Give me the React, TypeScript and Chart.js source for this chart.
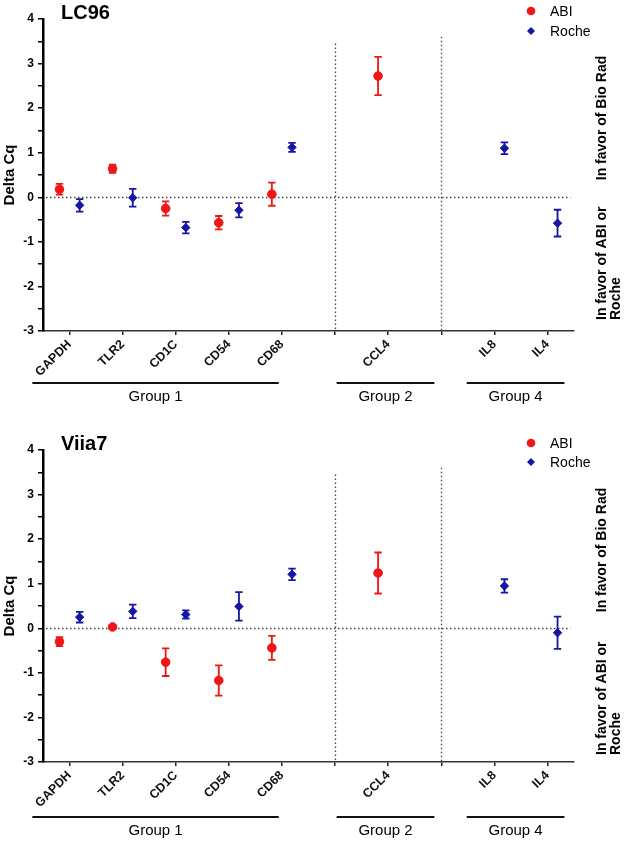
import React, { useEffect, useRef } from 'react';
import { Chart, registerables } from 'chart.js';

Chart.register(...registerables);
Chart.defaults.font.family = 'Arial, "Liberation Sans", sans-serif';

// ---------- data ----------
const categories = ['GAPDH', 'TLR2', 'CD1C', 'CD54', 'CD68', '', 'CCL4', '', 'IL8', 'IL4'];

const lc96Abi = [0.18, 0.64, -0.25, -0.57, 0.07, null, 2.72, null, null, null];
const lc96AbiErr = [0.12, 0.09, 0.16, 0.15, 0.26, null, 0.43, null, null, null];
const lc96Roche = [-0.18, -0.01, -0.68, -0.29, 1.12, null, null, null, 1.1, -0.58];
const lc96RocheErr = [0.14, 0.2, 0.13, 0.16, 0.1, null, null, null, 0.13, 0.3];

const viiaAbi = [-0.3, 0.03, -0.76, -1.17, -0.44, null, 1.24, null, null, null];
const viiaAbiErr = [0.1, 0.04, 0.31, 0.34, 0.27, null, 0.46, null, null, null];
const viiaRoche = [0.25, 0.38, 0.31, 0.49, 1.21, null, null, null, 0.95, -0.1];
const viiaRocheErr = [0.12, 0.15, 0.09, 0.32, 0.13, null, null, null, 0.15, 0.36];

const groupNames = ['Group 1', 'Group 2', 'Group 4'];
const groupStart = [-0.7, 5.03, 7.48];
const groupEnd = [3.94, 6.87, 9.32];
const dividers = [5, 7];
const dividerTop = [3.45, 3.6];

const yMin = -3;
const yMax = 4;

const RED = 'rgb(238,22,22)';
const BLUE = 'rgb(22,22,165)';
const OFFSET = 0.19;

type Panel = {
  title: string;
  abi: (number | null)[];
  abiErr: (number | null)[];
  roche: (number | null)[];
  rocheErr: (number | null)[];
  top: number;
  height: number;
  plotTop: number;
  plotBottom: number;
  legendY: number[];
  groupLineY: number;
  groupTextY: number;
  bioRadY: number;
  abiTextStartY: number;
};

const panels: Panel[] = [
  {
    title: 'LC96',
    abi: lc96Abi, abiErr: lc96AbiErr, roche: lc96Roche, rocheErr: lc96RocheErr,
    top: 0, height: 428, plotTop: 19, plotBottom: 331,
    legendY: [11, 31], groupLineY: 383, groupTextY: 397, bioRadY: 118, abiTextStartY: 320,
  },
  {
    title: 'Viia7',
    abi: viiaAbi, abiErr: viiaAbiErr, roche: viiaRoche, rocheErr: viiaRocheErr,
    top: 428, height: 414, plotTop: 22, plotBottom: 334,
    legendY: [15, 34], groupLineY: 389, groupTextY: 403, bioRadY: 122, abiTextStartY: 327,
  },
];

function toPoints(vals: (number | null)[], errs: (number | null)[], dx: number) {
  const out: { x: number; y: number; err: number }[] = [];
  vals.forEach((v, i) => {
    if (v !== null) out.push({ x: i + dx, y: v, err: errs[i] ?? 0 });
  });
  return out;
}

const FONT = 'Arial, "Liberation Sans", sans-serif';

const decorPlugin = {
  id: 'decor',
  beforeDatasetsDraw(chart: any) {
    const { ctx, chartArea } = chart;
    const xs = chart.scales.x;
    const ys = chart.scales.y;
    ctx.save();
    // dotted zero line & dividers
    ctx.setLineDash([1.5, 2.5]);
    ctx.lineWidth = 1.3;
    ctx.strokeStyle = '#444';
    const y0 = Math.round(ys.getPixelForValue(0)) + 0.5;
    ctx.beginPath();
    ctx.moveTo(chartArea.left + 3, y0);
    ctx.lineTo(xs.getPixelForValue(9.43), y0);
    ctx.stroke();
    dividers.forEach((d, k) => {
      const px = Math.round(xs.getPixelForValue(d)) + 0.5;
      ctx.beginPath();
      ctx.moveTo(px, ys.getPixelForValue(dividerTop[k]));
      ctx.lineTo(px, chartArea.bottom);
      ctx.stroke();
    });
    ctx.setLineDash([]);
    // error bars
    chart.data.datasets.forEach((ds: any, i: number) => {
      const meta = chart.getDatasetMeta(i);
      ctx.strokeStyle = ds.borderColor;
      ctx.lineWidth = 1.8;
      meta.data.forEach((el: any, j: number) => {
        const pt = ds.data[j];
        const t = ys.getPixelForValue(pt.y + pt.err);
        const b = ys.getPixelForValue(pt.y - pt.err);
        ctx.beginPath();
        ctx.moveTo(el.x, t);
        ctx.lineTo(el.x, b);
        ctx.moveTo(el.x - 3.7, t);
        ctx.lineTo(el.x + 3.7, t);
        ctx.moveTo(el.x - 3.7, b);
        ctx.lineTo(el.x + 3.7, b);
        ctx.stroke();
      });
    });
    ctx.restore();
  },
  afterDraw(chart: any, _args: any, opts: any) {
    const { ctx, chartArea } = chart;
    const xs = chart.scales.x;
    const p: Panel = opts.panel;
    ctx.save();
    ctx.fillStyle = '#000';
    // title
    ctx.font = `bold 20px ${FONT}`;
    ctx.textAlign = 'left';
    ctx.textBaseline = 'alphabetic';
    ctx.fillText(p.title, 61, p.plotTop);
    // legend
    ctx.fillStyle = RED;
    ctx.beginPath();
    ctx.arc(531, p.legendY[0], 4.3, 0, Math.PI * 2);
    ctx.fill();
    ctx.fillStyle = BLUE;
    ctx.beginPath();
    const ly = p.legendY[1];
    ctx.moveTo(531, ly - 4);
    ctx.lineTo(535, ly);
    ctx.lineTo(531, ly + 4);
    ctx.lineTo(527, ly);
    ctx.closePath();
    ctx.fill();
    ctx.fillStyle = '#000';
    ctx.font = `14px ${FONT}`;
    ctx.textBaseline = 'middle';
    ctx.fillText('ABI', 550, p.legendY[0] + 1);
    ctx.fillText('Roche', 550, p.legendY[1] + 1);
    // y title
    ctx.save();
    ctx.translate(10, (chartArea.top + chartArea.bottom) / 2);
    ctx.rotate(-Math.PI / 2);
    ctx.font = `bold 15px ${FONT}`;
    ctx.textAlign = 'center';
    ctx.textBaseline = 'middle';
    ctx.fillText('Delta Cq', 0, 0);
    ctx.restore();
    // right side texts
    ctx.font = `bold 14px ${FONT}`;
    ctx.save();
    ctx.translate(602, p.bioRadY);
    ctx.rotate(-Math.PI / 2);
    ctx.textAlign = 'center';
    ctx.textBaseline = 'middle';
    ctx.fillText('In favor of Bio Rad', 0, 0);
    ctx.restore();
    ctx.save();
    ctx.translate(602, p.abiTextStartY);
    ctx.rotate(-Math.PI / 2);
    ctx.textAlign = 'left';
    ctx.textBaseline = 'middle';
    ctx.fillText('In favor of ABI or', 0, 0);
    ctx.fillText('Roche', 0, 14);
    ctx.restore();
    // groups
    ctx.strokeStyle = '#111';
    ctx.lineWidth = 2;
    ctx.font = `15px ${FONT}`;
    ctx.textAlign = 'center';
    ctx.textBaseline = 'middle';
    groupNames.forEach((g, k) => {
      const a = xs.getPixelForValue(groupStart[k]);
      const b = xs.getPixelForValue(groupEnd[k]);
      ctx.beginPath();
      ctx.moveTo(a, p.groupLineY);
      ctx.lineTo(b, p.groupLineY);
      ctx.stroke();
      ctx.fillText(g, (a + b) / 2, p.groupTextY);
    });
    ctx.restore();
  },
};

function PanelChart({ panel }: { panel: Panel }) {
  const ref = useRef<HTMLCanvasElement>(null);
  useEffect(() => {
    const chart = new Chart(ref.current as HTMLCanvasElement, {
      type: 'scatter',
      data: {
        datasets: [
          {
            label: 'ABI',
            data: toPoints(panel.abi, panel.abiErr, -OFFSET) as any,
            backgroundColor: RED,
            borderColor: RED,
            pointStyle: 'circle',
            pointRadius: 4.3,
            borderWidth: 1,
          },
          {
            label: 'Roche',
            data: toPoints(panel.roche, panel.rocheErr, OFFSET) as any,
            backgroundColor: BLUE,
            borderColor: BLUE,
            pointStyle: 'rectRot',
            pointRadius: 4.2,
            borderWidth: 1,
          },
        ],
      },
      options: {
        animation: false,
        responsive: false,
        devicePixelRatio: 1,
        events: [],
        layout: { padding: { top: panel.plotTop, right: 53, left: 0, bottom: 0 } },
        plugins: {
          legend: { display: false },
          tooltip: { enabled: false },
          decor: { panel },
        } as any,
        scales: {
          x: {
            type: 'linear',
            min: -0.5,
            max: 9.5,
            afterBuildTicks: (s: any) => {
              s.ticks = categories.map((_, i) => ({ value: i }));
            },
            afterFit: (s: any) => {
              s.height = panel.height - panel.plotBottom;
            },
            ticks: {
              autoSkip: false,
              minRotation: 45,
              maxRotation: 45,
              padding: 2,
              color: '#111',
              font: { size: 12.5, weight: 'bold' },
              callback: (v: any) => categories[Number(v)] ?? '',
            },
            grid: {
              drawOnChartArea: false,
              drawTicks: true,
              tickLength: 4,
              color: '#222',
              lineWidth: 1.5,
            },
            border: { display: true, color: '#333', width: 1.5 },
          },
          y: {
            type: 'linear',
            min: yMin,
            max: yMax,
            afterFit: (s: any) => {
              s.width = 43;
            },
            ticks: {
              stepSize: 0.5,
              padding: 4,
              color: '#000',
              font: { size: 12, weight: 'bold' },
              callback: (v: any) => (Number.isInteger(Number(v)) ? String(v) : ''),
            },
            grid: {
              drawOnChartArea: false,
              drawTicks: true,
              tickLength: 5,
              color: '#000',
              lineWidth: 1.5,
            },
            border: { display: true, color: '#000', width: 2.5 },
          },
        },
      },
      plugins: [decorPlugin as any],
    });
    return () => chart.destroy();
  }, [panel]);
  return (
    <canvas
      ref={ref}
      width={627}
      height={panel.height}
      style={{ position: 'absolute', left: 0, top: panel.top, width: 627, height: panel.height }}
    />
  );
}

export default function App() {
  return (
    <div style={{ position: 'absolute', left: 0, top: 0, width: 627, height: 842, background: '#fff' }}>
      {panels.map((p) => (
        <PanelChart key={p.title} panel={p} />
      ))}
    </div>
  );
}
